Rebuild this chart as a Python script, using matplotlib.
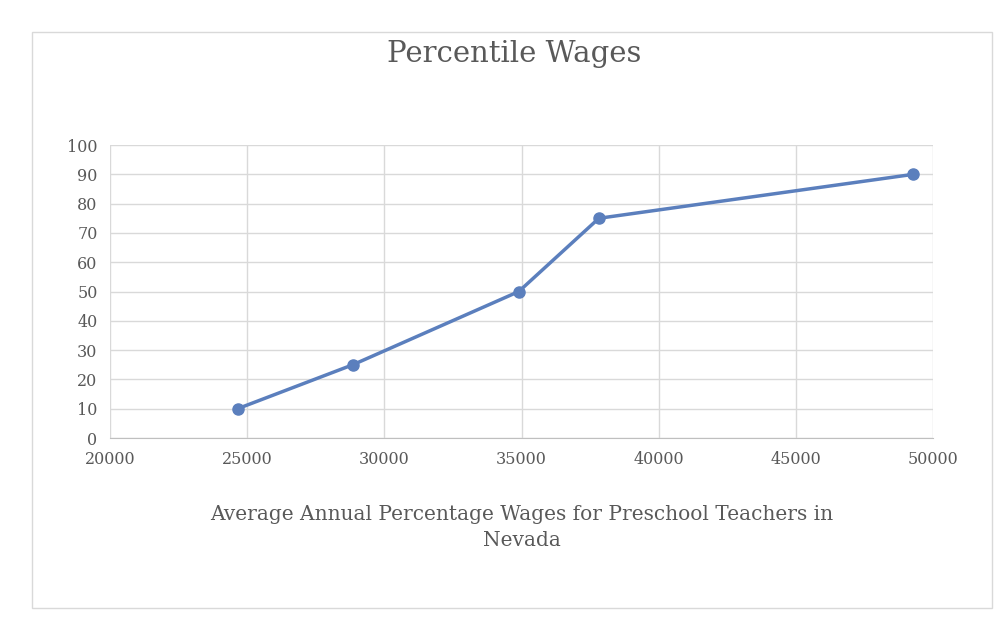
import matplotlib.pyplot as plt
from matplotlib.patches import Rectangle

wages = [24650, 28850, 34900, 37820, 49280]
percentiles = [10, 25, 50, 75, 90]
x_ticks = [20000, 25000, 30000, 35000, 40000, 45000, 50000]
y_ticks = list(range(0, 101, 10))

plt.rcParams['font.family'] = ['DejaVu Serif']

fig = plt.figure(figsize=(10.04, 6.26), dpi=100)
fig.patches.append(Rectangle((32 / 1004, 1 - 608 / 626), 960 / 1004, 576 / 626,
                             transform=fig.transFigure, fill=False,
                             edgecolor='#d9d9d9', linewidth=1))

ax = fig.add_axes([0.1096, 0.3003, 0.8197, 0.468])
ax.plot(wages, percentiles, color='#5b7fbd', linewidth=2.5, marker='o', markersize=8)
ax.set_xlim(20000, 50000)
ax.set_ylim(0, 100)
ax.set_xticks(x_ticks)
ax.set_yticks(y_ticks)
ax.grid(True, color='#d9d9d9', linewidth=1)
ax.set_axisbelow(True)
for s in ['top', 'right', 'left']:
    ax.spines[s].set_visible(False)
ax.spines['bottom'].set_color('#bfbfbf')
ax.tick_params(length=0, labelsize=11.5, colors='#595959', pad=9)

fig.text(0.512, 0.913, 'Percentile Wages', ha='center', va='center', fontsize=21, color='#595959')
fig.text(0.52, 0.157, 'Average Annual Percentage Wages for Preschool Teachers in\nNevada',
         ha='center', va='center', fontsize=14.5, color='#595959', linespacing=1.5)

fig.savefig('out.png', dpi=100)
